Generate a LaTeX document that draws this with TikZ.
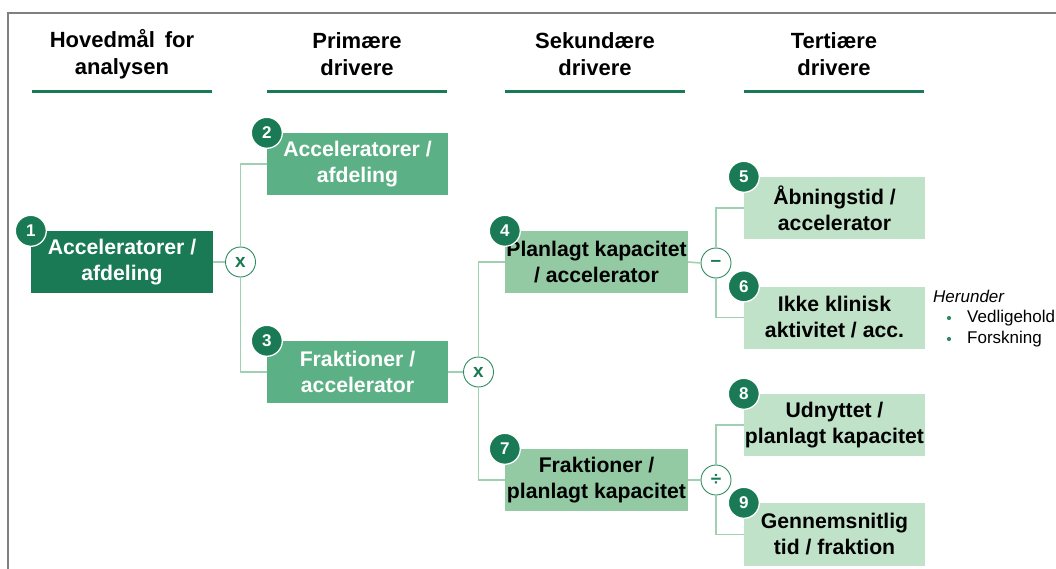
\documentclass[tikz,border=0pt]{standalone}
\usepackage{fontspec}
\setmainfont{Liberation Sans}
\usetikzlibrary{positioning}
\definecolor{gdark}{RGB}{26,122,86}
\definecolor{gmid}{RGB}{92,176,133}
\definecolor{glight}{RGB}{147,201,163}
\definecolor{gpale}{RGB}{192,226,200}
\definecolor{gline}{RGB}{160,208,178}
\definecolor{gring}{RGB}{46,139,96}
\definecolor{frame}{RGB}{128,128,128}
\begin{document}
\begin{tikzpicture}[x=1pt,y=-1pt,
  every node/.style={inner sep=0pt},
  hdr/.style={align=center,font=\fontsize{22}{27}\selectfont\bfseries},
  hline/.style={draw=gdark,line width=2.8pt},
  box/.style={minimum width=181pt,minimum height=62pt,align=center,
    font=\fontsize{21.2}{26}\selectfont\bfseries},
  lvl1/.style={box,fill=gdark,text=white},
  lvl2/.style={box,fill=gmid,text=white},
  lvl3/.style={box,fill=glight,text=black},
  lvl4/.style={box,fill=gpale,text=black},
  badge/.style={circle,fill=gdark,draw=white,line width=1.3pt,minimum size=31pt,
    text=white,font=\fontsize{17}{17}\selectfont\bfseries},
  op/.style={circle,fill=white,draw=gring,line width=0.9pt,minimum size=30pt,
    text=gdark,font=\fontsize{19}{19}\selectfont\bfseries},
  link/.style={draw=gline,line width=1.6pt},
  dot/.style={circle,fill=gring,minimum size=4.2pt},
  note/.style={anchor=west,font=\fontsize{17}{20}\selectfont}]
\useasboundingbox (0,0) rectangle (1056,569);
% frame
\draw[frame,line width=1.6pt] (1056,13) -- (8,13) -- (8,569);

% column headings
\node[hdr] (h1) at (122,54) {Hovedmål\hspace{0.45em}for\\analysen};
\node[hdr] (h2) at (357,54) {Primære\\drivere};
\node[hdr] (h3) at (595,54) {Sekundære\\drivere};
\node[hdr] (h4) at (834,54) {Tertiære\\drivere};
\draw[hline] (32,91.5) -- (212,91.5);
\draw[hline] (267,91.5) -- (447,91.5);
\draw[hline] (505,91.5) -- (685,91.5);
\draw[hline] (744,91.5) -- (924,91.5);

% boxes
\node[lvl1,minimum width=182pt] (b1) at (122,262) {Acceleratorer /\\afdeling};
\node[lvl2] (b2) at (357.5,164) {Acceleratorer /\\afdeling};
\node[lvl2] (b3) at (357.5,372) {Fraktioner /\\accelerator};
\node[lvl3,minimum width=183pt] (b4) at (596.5,262) {Planlagt kapacitet\\/ accelerator};
\node[lvl3,minimum width=183pt] (b7) at (596.5,480) {Fraktioner /\\planlagt kapacitet};
\node[lvl4] (b5) at (834.5,208) {Åbningstid /\\accelerator};
\node[lvl4] (b6) at (834.5,317.5) {Ikke klinisk\\aktivitet / acc.};
\node[lvl4] (b8) at (834.5,425) {Udnyttet /\\planlagt kapacitet};
\node[lvl4,minimum height=63pt] (b9) at (834.5,534.5) {Gennemsnitlig\\tid / fraktion};

% operator circles
\node[op] (o1) at (240.5,262) {x};
\node[op] (o2) at (478.5,372) {x};
\node[op] (o3) at (716,263) {–};
\node[op] (o4) at (716,480) {÷};

% connectors
\draw[link] (b1.east) -- (o1.west);
\draw[link] (o1.north) |- (b2.west);
\draw[link] (o1.south) |- (b3.west);
\draw[link] (b3.east) -- (o2.west);
\draw[link] (o2.north) |- (b4.west);
\draw[link] (o2.south) |- (b7.west);
\draw[link] (b4.east) -- (o3.west);
\draw[link] (o3.north) |- (b5.west);
\draw[link] (o3.south) |- (b6.west);
\draw[link] (b7.east) -- (o4.west);
\draw[link] (o4.north) |- (b8.west);
\draw[link] (o4.south) |- (b9.west);

% numbered badges
\node[badge] (n1) at (b1.north west) {1};
\node[badge] (n2) at (b2.north west) {2};
\node[badge] (n3) at (b3.north west) {3};
\node[badge] (n4) at (b4.north west) {4};
\node[badge] (n5) at (b5.north west) {5};
\node[badge] (n6) at (b6.north west) {6};
\node[badge] (n7) at (b7.north west) {7};
\node[badge] (n8) at (b8.north west) {8};
\node[badge] (n9) at (b9.north west) {9};

% side note
\node[note,font=\fontsize{17}{20}\selectfont\itshape] (t0) at (933,296) {Herunder};
\node[dot] (d1) at (949,318) {};
\node[note] (t1) at (967,318) {Vedligehold};
\node[dot] (d2) at (949,339) {};
\node[note] (t2) at (967,339) {Forskning};
\end{tikzpicture}
\end{document}
